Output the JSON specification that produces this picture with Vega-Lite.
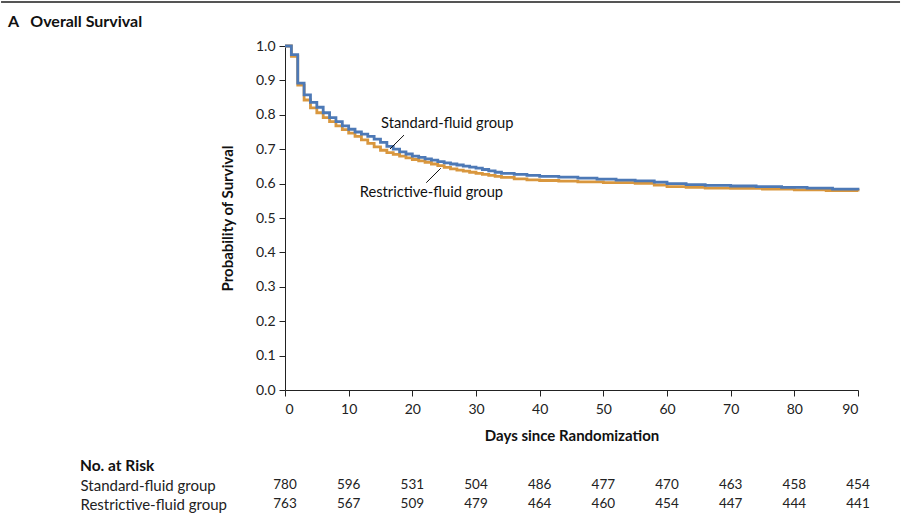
{
  "$schema": "https://vega.github.io/schema/vega-lite/v6.json",
  "padding": {"left": 0, "top": 1, "right": 0, "bottom": 5},
  "bounds": "flush",
  "spacing": 85.5,
  "config": {
    "font": "Lato",
    "view": {"stroke": null},
    "axis": {"grid": false, "labelColor": "#222", "domainColor": "#222", "tickColor": "#222", "labelFontSize": 14, "titleFontSize": 15, "titleFontWeight": "bold", "titleColor": "#111", "labelFont": "Lato", "titleFont": "Lato", "labelOverlap": false}
  },
  "datasets": {
    "km": [
      {"group": "Restrictive", "day": 0, "surv": 1.0},
      {"group": "Restrictive", "day": 1, "surv": 0.97},
      {"group": "Restrictive", "day": 2, "surv": 0.886},
      {"group": "Restrictive", "day": 3, "surv": 0.843},
      {"group": "Restrictive", "day": 4, "surv": 0.82},
      {"group": "Restrictive", "day": 5, "surv": 0.806},
      {"group": "Restrictive", "day": 6, "surv": 0.792},
      {"group": "Restrictive", "day": 7, "surv": 0.78},
      {"group": "Restrictive", "day": 8, "surv": 0.768},
      {"group": "Restrictive", "day": 9, "surv": 0.757},
      {"group": "Restrictive", "day": 10, "surv": 0.747},
      {"group": "Restrictive", "day": 11, "surv": 0.737},
      {"group": "Restrictive", "day": 12, "surv": 0.727},
      {"group": "Restrictive", "day": 13, "surv": 0.717},
      {"group": "Restrictive", "day": 14, "surv": 0.707},
      {"group": "Restrictive", "day": 15, "surv": 0.697},
      {"group": "Restrictive", "day": 16, "surv": 0.69},
      {"group": "Restrictive", "day": 17, "surv": 0.685},
      {"group": "Restrictive", "day": 18, "surv": 0.68},
      {"group": "Restrictive", "day": 19, "surv": 0.675},
      {"group": "Restrictive", "day": 20, "surv": 0.67},
      {"group": "Restrictive", "day": 21, "surv": 0.666},
      {"group": "Restrictive", "day": 22, "surv": 0.662},
      {"group": "Restrictive", "day": 23, "surv": 0.657},
      {"group": "Restrictive", "day": 24, "surv": 0.652},
      {"group": "Restrictive", "day": 25, "surv": 0.647},
      {"group": "Restrictive", "day": 26, "surv": 0.643},
      {"group": "Restrictive", "day": 27, "surv": 0.639},
      {"group": "Restrictive", "day": 28, "surv": 0.636},
      {"group": "Restrictive", "day": 29, "surv": 0.633},
      {"group": "Restrictive", "day": 30, "surv": 0.63},
      {"group": "Restrictive", "day": 31, "surv": 0.627},
      {"group": "Restrictive", "day": 32, "surv": 0.624},
      {"group": "Restrictive", "day": 33, "surv": 0.621},
      {"group": "Restrictive", "day": 34, "surv": 0.618},
      {"group": "Restrictive", "day": 36, "surv": 0.614},
      {"group": "Restrictive", "day": 38, "surv": 0.611},
      {"group": "Restrictive", "day": 40, "surv": 0.609},
      {"group": "Restrictive", "day": 43, "surv": 0.607},
      {"group": "Restrictive", "day": 46, "surv": 0.605},
      {"group": "Restrictive", "day": 50, "surv": 0.603},
      {"group": "Restrictive", "day": 55, "surv": 0.601},
      {"group": "Restrictive", "day": 58, "surv": 0.596},
      {"group": "Restrictive", "day": 60, "surv": 0.591},
      {"group": "Restrictive", "day": 63, "surv": 0.589},
      {"group": "Restrictive", "day": 66, "surv": 0.587},
      {"group": "Restrictive", "day": 70, "surv": 0.586},
      {"group": "Restrictive", "day": 75, "surv": 0.584},
      {"group": "Restrictive", "day": 80, "surv": 0.582},
      {"group": "Restrictive", "day": 85, "surv": 0.58},
      {"group": "Restrictive", "day": 90, "surv": 0.577},
      {"group": "Standard", "day": 0, "surv": 1.0},
      {"group": "Standard", "day": 1, "surv": 0.975},
      {"group": "Standard", "day": 2, "surv": 0.892},
      {"group": "Standard", "day": 3, "surv": 0.858},
      {"group": "Standard", "day": 4, "surv": 0.836},
      {"group": "Standard", "day": 5, "surv": 0.822},
      {"group": "Standard", "day": 6, "surv": 0.806},
      {"group": "Standard", "day": 7, "surv": 0.792},
      {"group": "Standard", "day": 8, "surv": 0.78},
      {"group": "Standard", "day": 9, "surv": 0.768},
      {"group": "Standard", "day": 10, "surv": 0.758},
      {"group": "Standard", "day": 11, "surv": 0.75},
      {"group": "Standard", "day": 12, "surv": 0.744},
      {"group": "Standard", "day": 13, "surv": 0.737},
      {"group": "Standard", "day": 14, "surv": 0.729},
      {"group": "Standard", "day": 15, "surv": 0.72},
      {"group": "Standard", "day": 16, "surv": 0.708},
      {"group": "Standard", "day": 17, "surv": 0.7},
      {"group": "Standard", "day": 18, "surv": 0.692},
      {"group": "Standard", "day": 19, "surv": 0.686},
      {"group": "Standard", "day": 20, "surv": 0.68},
      {"group": "Standard", "day": 21, "surv": 0.676},
      {"group": "Standard", "day": 22, "surv": 0.672},
      {"group": "Standard", "day": 23, "surv": 0.668},
      {"group": "Standard", "day": 24, "surv": 0.664},
      {"group": "Standard", "day": 25, "surv": 0.66},
      {"group": "Standard", "day": 26, "surv": 0.657},
      {"group": "Standard", "day": 27, "surv": 0.654},
      {"group": "Standard", "day": 28, "surv": 0.651},
      {"group": "Standard", "day": 29, "surv": 0.648},
      {"group": "Standard", "day": 30, "surv": 0.645},
      {"group": "Standard", "day": 31, "surv": 0.641},
      {"group": "Standard", "day": 32, "surv": 0.637},
      {"group": "Standard", "day": 33, "surv": 0.633},
      {"group": "Standard", "day": 34, "surv": 0.63},
      {"group": "Standard", "day": 36, "surv": 0.627},
      {"group": "Standard", "day": 38, "surv": 0.624},
      {"group": "Standard", "day": 40, "surv": 0.621},
      {"group": "Standard", "day": 43, "surv": 0.619},
      {"group": "Standard", "day": 46, "surv": 0.616},
      {"group": "Standard", "day": 49, "surv": 0.613},
      {"group": "Standard", "day": 52, "surv": 0.61},
      {"group": "Standard", "day": 55, "surv": 0.608},
      {"group": "Standard", "day": 58, "surv": 0.604},
      {"group": "Standard", "day": 60, "surv": 0.6},
      {"group": "Standard", "day": 63, "surv": 0.597},
      {"group": "Standard", "day": 66, "surv": 0.595},
      {"group": "Standard", "day": 70, "surv": 0.593},
      {"group": "Standard", "day": 74, "surv": 0.591},
      {"group": "Standard", "day": 78, "surv": 0.589},
      {"group": "Standard", "day": 82, "surv": 0.587},
      {"group": "Standard", "day": 86, "surv": 0.584},
      {"group": "Standard", "day": 90, "surv": 0.581}
    ],
    "labels": [
      {"label": "Standard-fluid group", "day": 15.08, "surv": 0.773},
      {"label": "Restrictive-fluid group", "day": 11.73, "surv": 0.572}
    ],
    "pointers": [
      {"day": 16.49, "surv": 0.7006, "day2": 18.69, "surv2": 0.741},
      {"day": 22.19, "surv": 0.6026, "day2": 24.46, "surv2": 0.6445}
    ],
    "risk": [
      {"group": "Standard-fluid group", "day": 0, "n": 780},
      {"group": "Standard-fluid group", "day": 10, "n": 596},
      {"group": "Standard-fluid group", "day": 20, "n": 531},
      {"group": "Standard-fluid group", "day": 30, "n": 504},
      {"group": "Standard-fluid group", "day": 40, "n": 486},
      {"group": "Standard-fluid group", "day": 50, "n": 477},
      {"group": "Standard-fluid group", "day": 60, "n": 470},
      {"group": "Standard-fluid group", "day": 70, "n": 463},
      {"group": "Standard-fluid group", "day": 80, "n": 458},
      {"group": "Standard-fluid group", "day": 90, "n": 454},
      {"group": "Restrictive-fluid group", "day": 0, "n": 763},
      {"group": "Restrictive-fluid group", "day": 10, "n": 567},
      {"group": "Restrictive-fluid group", "day": 20, "n": 509},
      {"group": "Restrictive-fluid group", "day": 30, "n": 479},
      {"group": "Restrictive-fluid group", "day": 40, "n": 464},
      {"group": "Restrictive-fluid group", "day": 50, "n": 460},
      {"group": "Restrictive-fluid group", "day": 60, "n": 454},
      {"group": "Restrictive-fluid group", "day": 70, "n": 447},
      {"group": "Restrictive-fluid group", "day": 80, "n": 444},
      {"group": "Restrictive-fluid group", "day": 90, "n": 441}
    ]
  },
  "vconcat": [
    {
      "width": 573,
      "height": 344,
      "title": {"text": "A\u00a0\u00a0\u00a0Overall Survival", "anchor": "start", "frame": "group", "dx": -277, "offset": -42, "baseline": "alphabetic", "fontSize": 16, "fontWeight": "bold", "color": "#111", "font": "Lato"},
      "layer": [
        {
          "data": {"name": "km"},
          "transform": [{"filter": "datum.group === 'Restrictive'"}],
          "mark": {"type": "line", "interpolate": "step-after", "strokeWidth": 2.8, "color": "#d9973e"},
          "encoding": {
            "x": {"field": "day", "type": "quantitative", "scale": {"domain": [0, 90], "nice": false}, "axis": {"values": [0, 10, 20, 30, 40, 50, 60, 70, 80, 90], "tickSize": 6, "labelPadding": 6, "title": "Days since Randomization", "titlePadding": 12}},
            "y": {"field": "surv", "type": "quantitative", "scale": {"domain": [0, 1], "nice": false}, "axis": {"values": [0, 0.1, 0.2, 0.3, 0.4, 0.5, 0.6, 0.7, 0.8, 0.9, 1.0], "format": ".1f", "tickSize": 6, "labelPadding": 4, "title": "Probability of Survival", "titlePadding": 20}}
          }
        },
        {
          "data": {"name": "km"},
          "transform": [{"filter": "datum.group === 'Standard'"}],
          "mark": {"type": "line", "interpolate": "step-after", "strokeWidth": 2.8, "color": "#4d79b6"},
          "encoding": {
            "x": {"field": "day", "type": "quantitative", "scale": {"domain": [0, 90], "nice": false}, "axis": {"values": [0, 10, 20, 30, 40, 50, 60, 70, 80, 90], "tickSize": 6, "labelPadding": 6, "title": "Days since Randomization", "titlePadding": 12}},
            "y": {"field": "surv", "type": "quantitative", "scale": {"domain": [0, 1], "nice": false}, "axis": {"values": [0, 0.1, 0.2, 0.3, 0.4, 0.5, 0.6, 0.7, 0.8, 0.9, 1.0], "format": ".1f", "tickSize": 6, "labelPadding": 4, "title": "Probability of Survival", "titlePadding": 20}}
          }
        },
        {
          "data": {"name": "pointers"},
          "mark": {"type": "rule", "color": "#111", "strokeWidth": 1},
          "encoding": {
            "x": {"field": "day", "type": "quantitative", "scale": {"domain": [0, 90], "nice": false}, "axis": {"values": [0, 10, 20, 30, 40, 50, 60, 70, 80, 90], "tickSize": 6, "labelPadding": 6, "title": "Days since Randomization", "titlePadding": 12}},
            "y": {"field": "surv", "type": "quantitative", "scale": {"domain": [0, 1], "nice": false}, "axis": {"values": [0, 0.1, 0.2, 0.3, 0.4, 0.5, 0.6, 0.7, 0.8, 0.9, 1.0], "format": ".1f", "tickSize": 6, "labelPadding": 4, "title": "Probability of Survival", "titlePadding": 20}},
            "x2": {"field": "day2"},
            "y2": {"field": "surv2"}
          }
        },
        {
          "data": {"name": "labels"},
          "mark": {"type": "text", "align": "left", "baseline": "middle", "fontSize": 14.7, "color": "#111"},
          "encoding": {
            "x": {"field": "day", "type": "quantitative", "scale": {"domain": [0, 90], "nice": false}, "axis": {"values": [0, 10, 20, 30, 40, 50, 60, 70, 80, 90], "tickSize": 6, "labelPadding": 6, "title": "Days since Randomization", "titlePadding": 12}},
            "y": {"field": "surv", "type": "quantitative", "scale": {"domain": [0, 1], "nice": false}, "axis": {"values": [0, 0.1, 0.2, 0.3, 0.4, 0.5, 0.6, 0.7, 0.8, 0.9, 1.0], "format": ".1f", "tickSize": 6, "labelPadding": 4, "title": "Probability of Survival", "titlePadding": 20}},
            "text": {"field": "label"}
          }
        },
        {
          "data": {"values": [{}]},
          "mark": {"type": "rule", "color": "#555", "strokeWidth": 2, "clip": false},
          "encoding": {
            "x": {"datum": -44.6, "type": "quantitative", "scale": {"domain": [0, 90], "nice": false}, "axis": {"values": [0, 10, 20, 30, 40, 50, 60, 70, 80, 90], "tickSize": 6, "labelPadding": 6, "title": "Days since Randomization", "titlePadding": 12}},
            "x2": {"datum": 96.6},
            "y": {"datum": 1.1279, "type": "quantitative", "scale": {"domain": [0, 1], "nice": false}, "axis": {"values": [0, 0.1, 0.2, 0.3, 0.4, 0.5, 0.6, 0.7, 0.8, 0.9, 1.0], "format": ".1f", "tickSize": 6, "labelPadding": 4, "title": "Probability of Survival", "titlePadding": 20}}
          }
        }
      ]
    },
    {
      "width": 573,
      "height": 38,
      "title": {"text": "No. at Risk", "anchor": "start", "frame": "group", "dx": -205, "offset": -11, "baseline": "alphabetic", "fontSize": 15.5, "fontWeight": "bold", "color": "#111", "font": "Lato"},
      "data": {"name": "risk"},
      "mark": {"type": "text", "fontSize": 13.5, "color": "#222", "baseline": "middle"},
      "encoding": {
        "x": {"field": "day", "type": "quantitative", "scale": {"domain": [0, 90], "nice": false}, "axis": null},
        "y": {"field": "group", "type": "nominal", "sort": ["Standard-fluid group", "Restrictive-fluid group"], "scale": {"paddingInner": 0, "paddingOuter": 0}, "axis": {"title": null, "ticks": false, "domain": false, "labelAlign": "left", "labelPadding": 205, "labelFontSize": 15, "labelColor": "#222"}},
        "text": {"field": "n", "type": "quantitative"}
      }
    }
  ]
}
